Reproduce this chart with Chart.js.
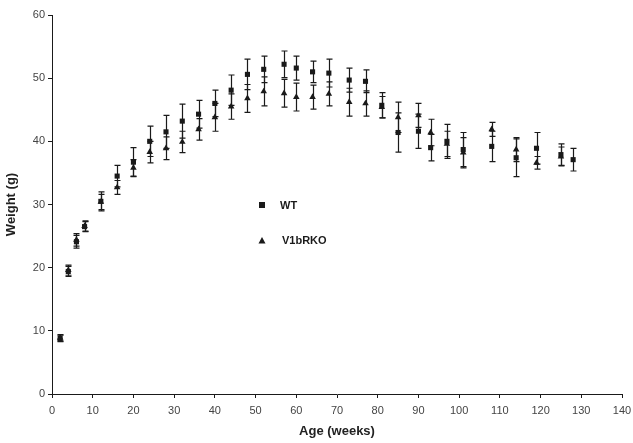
<!DOCTYPE html>
<html>
<head>
<meta charset="utf-8">
<script src="https://cdn.jsdelivr.net/npm/chart.js@4.4.1/dist/chart.umd.min.js"></script>
<style>
  html, body { margin: 0; padding: 0; background: #fff; }
  #wrap { width: 633px; height: 443px; }
</style>
</head>
<body>
<div id="wrap"><canvas id="weightChart" width="633" height="443"></canvas></div>
<script>
// Age in weeks
const weeks = [2, 4, 6, 8, 12, 16, 20, 24, 28, 32, 36, 40, 44, 48, 52, 57, 60, 64, 68, 73, 77, 81, 85, 90, 93, 97, 101, 108, 114, 119, 125, 128];

// WT mean weight (g) and SEM
const wtMean = [8.8, 19.4, 24.1, 26.5, 30.5, 34.5, 36.7, 40.0, 41.5, 43.2, 44.3, 46.0, 48.1, 50.6, 51.4, 52.2, 51.6, 51.0, 50.8, 49.7, 49.5, 45.7, 41.4, 41.6, 39.0, 40.0, 38.7, 39.2, 37.4, 38.9, 37.9, 37.1];
const wtErr = [0.5, 0.8, 1.0, 0.8, 1.5, 1.7, 2.3, 2.4, 2.6, 2.7, 2.2, 2.1, 2.4, 2.4, 2.1, 2.1, 1.9, 1.7, 2.2, 1.9, 1.8, 2.0, 3.1, 2.7, 2.1, 2.7, 2.7, 2.4, 3.0, 2.5, 1.7, 1.8];

// V1bRKO mean weight (g) and SEM
const koMean = [8.9, 19.6, 24.4, 26.6, 30.4, 32.7, 35.8, 38.3, 38.9, 39.9, 41.9, 43.8, 45.5, 46.8, 47.9, 47.6, 47.0, 47.0, 47.5, 46.2, 46.0, 45.4, 43.8, 44.1, 41.4, 39.6, 38.2, 41.9, 38.7, 36.6, 37.6, null];
const koErr = [0.5, 0.8, 1.0, 0.8, 1.2, 1.1, 1.3, 1.7, 1.8, 1.7, 1.7, 2.2, 2.0, 2.2, 2.3, 2.2, 2.2, 1.9, 1.9, 2.2, 2.0, 1.7, 2.4, 1.9, 2.1, 2.0, 2.4, 1.1, 1.9, 1.0, 1.5, null];

const xTicks = [0, 10, 20, 30, 40, 50, 60, 70, 80, 90, 100, 110, 120, 130, 140];

const ink = '#1a1a1a';

function toPoints(means) {
    return weeks.map((w, i) => ({ x: w, y: means[i] }));
}

// draws vertical error bars with small caps, using the chart scales
const errorBars = {
    id: 'errorBars',
    beforeDatasetsDraw(chart) {
        const { ctx, scales: { x, y } } = chart;
        ctx.save();
        ctx.strokeStyle = ink;
        ctx.lineWidth = 1.2;
        chart.data.datasets.forEach(ds => {
            if (!ds.errors) return;
            ds.data.forEach((p, i) => {
                const e = ds.errors[i];
                if (p.y == null || e == null) return;
                const px = Math.round(x.getPixelForValue(p.x)) + 0.5;
                const top = y.getPixelForValue(p.y + e);
                const bot = y.getPixelForValue(p.y - e);
                ctx.beginPath();
                ctx.moveTo(px, top);
                ctx.lineTo(px, bot);
                ctx.moveTo(px - 3, top);
                ctx.lineTo(px + 3, top);
                ctx.moveTo(px - 3, bot);
                ctx.lineTo(px + 3, bot);
                ctx.stroke();
            });
        });
        ctx.restore();
    }
};

// legend sits inside the plot, like the original figure
const innerLegend = {
    id: 'innerLegend',
    afterDraw(chart) {
        const ctx = chart.ctx;
        ctx.save();
        ctx.fillStyle = ink;
        ctx.fillRect(259, 202, 6, 6);
        ctx.beginPath();
        ctx.moveTo(262, 237);
        ctx.lineTo(265.5, 243.5);
        ctx.lineTo(258.5, 243.5);
        ctx.closePath();
        ctx.fill();
        ctx.font = 'bold 11px "Liberation Sans", Arial, sans-serif';
        ctx.textBaseline = 'middle';
        ctx.fillText('WT', 280, 206);
        ctx.fillText('V1bRKO', 282, 241);
        ctx.restore();
    }
};

const tickFont = { family: '"Liberation Sans", Arial, sans-serif', size: 11 };
const titleFont = { family: '"Liberation Sans", Arial, sans-serif', size: 13, weight: 'bold' };

const ctx = document.getElementById('weightChart').getContext('2d');
new Chart(ctx, {
    type: 'scatter',
    data: {
        datasets: [
            {
                label: 'WT',
                data: toPoints(wtMean),
                errors: wtErr,
                pointStyle: 'rect',
                pointRadius: 3.6,
                backgroundColor: ink,
                borderColor: ink,
                borderWidth: 0
            },
            {
                label: 'V1bRKO',
                data: toPoints(koMean),
                errors: koErr,
                pointStyle: 'triangle',
                pointRadius: 3.8,
                backgroundColor: ink,
                borderColor: ink,
                borderWidth: 0
            }
        ]
    },
    options: {
        responsive: false,
        animation: false,
        layout: { padding: { top: 15, right: 11, left: 0, bottom: 0 } },
        plugins: {
            legend: { display: false },
            tooltip: { enabled: false }
        },
        scales: {
            x: {
                type: 'linear',
                min: 0,
                max: 140,
                afterBuildTicks: scale => { scale.ticks = xTicks.map(v => ({ value: v })); },
                afterFit: scale => {
                    scale.height = 49;
                    scale.paddingRight = 11;
                },
                border: { color: ink, width: 1 },
                grid: { drawOnChartArea: false, color: ink, tickLength: 4 },
                ticks: { color: '#444', font: tickFont, padding: 6, maxRotation: 0 },
                title: { display: true, text: 'Age (weeks)', color: '#222', font: titleFont, padding: { top: 4 } }
            },
            y: {
                min: 0,
                max: 60,
                afterFit: scale => { scale.width = 52; },
                border: { color: ink, width: 1 },
                grid: { drawOnChartArea: false, color: ink, tickLength: 4 },
                ticks: { stepSize: 10, color: '#444', font: tickFont, padding: 3 },
                title: { display: true, text: 'Weight (g)', color: '#222', font: titleFont, padding: { bottom: 4 } }
            }
        }
    },
    plugins: [errorBars, innerLegend]
});
</script>
</body>
</html>
